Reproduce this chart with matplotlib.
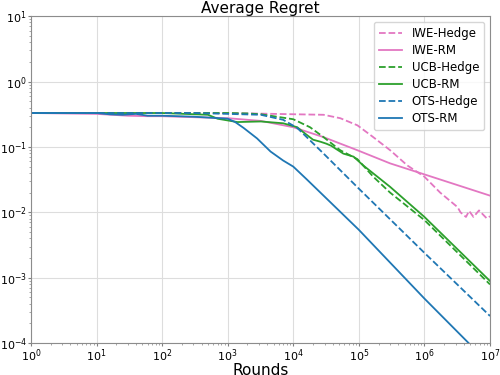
import matplotlib
matplotlib.use("Agg")
from matplotlib import pyplot as plt

# Average regret curves (log-log)
iwe_hedge_x = [1, 10, 100, 1000, 1e4, 2.9e4, 5.2e4, 9.5e4, 1.66e5, 3e5, 5.5e5, 1e6, 1.74e6, 3.2e6, 3.55e6, 4.3e6, 4.8e6, 5.6e6, 6.8e6, 8.9e6, 1e7]
iwe_hedge_y = [0.33, 0.33, 0.33, 0.33, 0.316, 0.31, 0.275, 0.214, 0.141, 0.089, 0.052, 0.035, 0.020, 0.012, 0.010, 0.0085, 0.0105, 0.0085, 0.0107, 0.0081, 0.0087]

iwe_rm_x = [1, 10, 30, 60, 100, 300, 1000, 3200, 1e4, 2.9e4, 9.5e4, 3e5, 1e6, 1e7]
iwe_rm_y = [0.33, 0.32, 0.30, 0.295, 0.295, 0.285, 0.275, 0.25, 0.20, 0.141, 0.089, 0.056, 0.038, 0.018]

ucb_hedge_x = [1, 10, 100, 1000, 2000, 3200, 1e4, 1.8e4, 2.9e4, 5.2e4, 9.5e4, 1.66e5, 3e5, 1e6, 1e7]
ucb_hedge_y = [0.33, 0.33, 0.33, 0.33, 0.325, 0.316, 0.265, 0.20, 0.141, 0.089, 0.065, 0.035, 0.020, 0.0076, 0.00079]

ucb_rm_x = [1, 10, 100, 500, 700, 1400, 3200, 7000, 1.15e4, 1.4e4, 2e4, 2.6e4, 3.2e4, 3.8e4, 4.5e4, 5.8e4, 8.3e4, 1.17e5, 3e5, 1e6, 1e7]
ucb_rm_y = [0.33, 0.33, 0.33, 0.31, 0.27, 0.24, 0.245, 0.23, 0.20, 0.17, 0.129, 0.12, 0.112, 0.104, 0.093, 0.079, 0.071, 0.052, 0.0245, 0.0085, 0.00089]

ots_hedge_x = [1, 10, 100, 300, 1000, 3200, 7000, 1.15e4, 1.8e4, 2.9e4, 1e5, 1e6, 1e7]
ots_hedge_y = [0.33, 0.33, 0.33, 0.33, 0.32, 0.31, 0.26, 0.195, 0.126, 0.079, 0.023, 0.0024, 0.00026]

ots_rm_x = [1, 10, 16, 25, 40, 60, 100, 300, 1000, 1300, 1750, 2800, 4500, 7000, 1e4, 1.6e4, 1e5, 1e6, 1e7]
ots_rm_y = [0.33, 0.33, 0.315, 0.31, 0.32, 0.30, 0.30, 0.29, 0.27, 0.24, 0.195, 0.135, 0.085, 0.062, 0.050, 0.032, 0.0054, 0.00048, 4.7e-5]

pink = "#e377c2"
green = "#2ca02c"
blue = "#1f77b4"

fig = plt.figure(figsize=(5, 3.75), dpi=100)
ax = fig.add_axes([0.062, 0.085, 0.918, 0.872])

ax.plot(iwe_hedge_x, iwe_hedge_y, color=pink, ls="--", lw=1.3, label="IWE-Hedge")
ax.plot(iwe_rm_x, iwe_rm_y, color=pink, ls="-", lw=1.3, label="IWE-RM")
ax.plot(ucb_hedge_x, ucb_hedge_y, color=green, ls="--", lw=1.3, label="UCB-Hedge")
ax.plot(ucb_rm_x, ucb_rm_y, color=green, ls="-", lw=1.3, label="UCB-RM")
ax.plot(ots_hedge_x, ots_hedge_y, color=blue, ls="--", lw=1.3, label="OTS-Hedge")
ax.plot(ots_rm_x, ots_rm_y, color=blue, ls="-", lw=1.3, label="OTS-RM")

ax.set_xscale("log")
ax.set_yscale("log")
ax.set_xlim(1, 1e7)
ax.set_ylim(1e-4, 10)
ax.grid(True, which="major", color="#dddddd", lw=0.8)
ax.tick_params(which="major", labelsize=8, length=2, pad=1, colors="0.5", labelcolor="black")
ax.tick_params(which="minor", length=1.5, colors="0.6")
for s in ax.spines.values():
    s.set_color("0.55")

ax.set_title("Average Regret", fontsize=11, pad=2)
ax.set_xlabel("Rounds", fontsize=11, labelpad=-1)
ax.legend(loc="upper right", fontsize=8.5, framealpha=0.8, labelspacing=0.35)

fig.savefig("out.png")
